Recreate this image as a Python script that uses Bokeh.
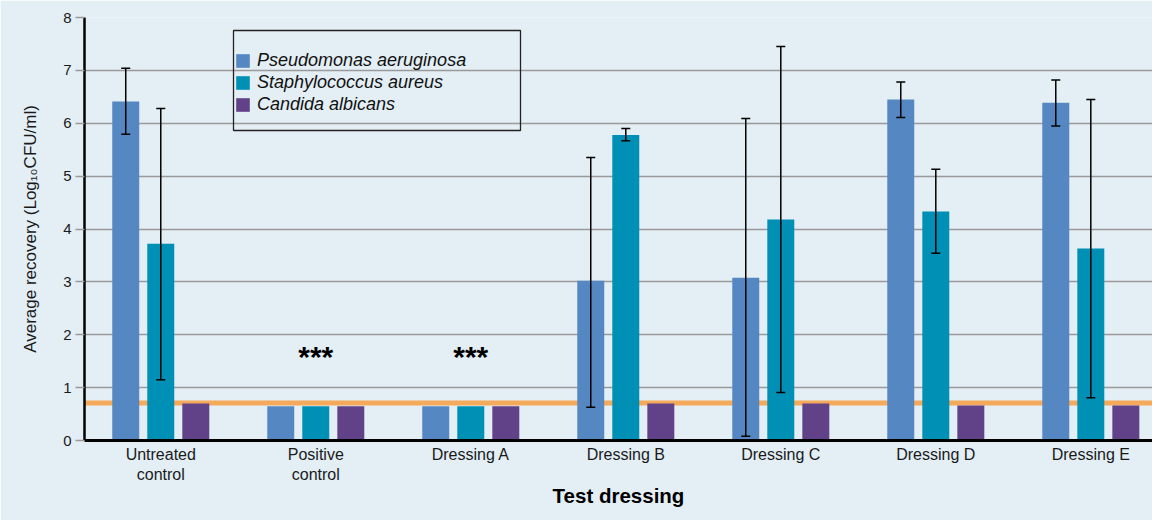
from bokeh.plotting import figure
from bokeh.models import (Range1d, FixedTicker, Whisker, TeeHead, ColumnDataSource,
                          Span, Legend, LegendItem, BoxAnnotation)
from bokeh.core.properties import value
from bokeh.embed import file_html
from bokeh.resources import INLINE

# ---------------- data ----------------
categories = ["Untreated\ncontrol", "Positive\ncontrol", "Dressing A", "Dressing B",
              "Dressing C", "Dressing D", "Dressing E"]
series_names = ["Pseudomonas aeruginosa", "Staphylococcus aureus", "Candida albicans"]

pseudomonas = [6.41, 0.65, 0.65, 3.02, 3.08, 6.45, 6.39]
pseudomonas_lo = [5.79, None, None, 0.63, 0.08, 6.11, 5.95]
pseudomonas_hi = [7.04, None, None, 5.35, 6.09, 6.78, 6.82]

staphylococcus = [3.72, 0.65, 0.65, 5.78, 4.18, 4.33, 3.63]
staphylococcus_lo = [1.15, None, None, 5.67, 0.91, 3.54, 0.81]
staphylococcus_hi = [6.28, None, None, 5.90, 7.45, 5.13, 6.45]

candida = [0.70, 0.65, 0.65, 0.70, 0.70, 0.66, 0.66]

detection_limit = 0.71
star_groups = [1, 2]
star_y = [1.58, 1.58]
star_text = ["***", "***"]

y_ticks = [0, 1, 2, 3, 4, 5, 6, 7, 8]

# ---------------- styling ----------------
colors = ["#5588c2", "#008fb5", "#614288"]
bg = "#e3eef5"
FONT = "Liberation Sans"
offsets = [-0.226, 0.0, 0.226]
bar_w = 0.174

p = figure(width=1152, height=520, x_range=Range1d(-0.492, 6.398), y_range=Range1d(0, 8),
           output_backend="svg", toolbar_location=None,
           min_border_left=84, min_border_right=0, min_border_top=17, min_border_bottom=80)
p.background_fill_color = bg
p.border_fill_color = bg
p.outline_line_color = None

# detection limit line (under bars)
p.add_layout(Span(location=detection_limit, dimension="width", line_color="#f5a95a",
                  line_width=5, level="underlay"))

values = [pseudomonas, staphylococcus, candida]
renderers = []
for k, vals in enumerate(values):
    xs = [i + offsets[k] for i in range(len(categories))]
    src = ColumnDataSource(dict(x=xs, top=vals))
    r = p.vbar(x="x", top="top", bottom=0, width=bar_w, source=src,
               fill_color=colors[k], line_color=None)
    renderers.append(r)

# error bars
for k, (lo, hi) in enumerate([(pseudomonas_lo, pseudomonas_hi),
                              (staphylococcus_lo, staphylococcus_hi)]):
    xs, los, his = [], [], []
    for i in range(len(categories)):
        if lo[i] is not None:
            xs.append(i + offsets[k]); los.append(lo[i]); his.append(hi[i])
    esrc = ColumnDataSource(dict(x=xs, lo=los, hi=his))
    w = Whisker(source=esrc, base="x", lower="lo", upper="hi", level="annotation",
                line_color="black", line_width=1.5,
                upper_head=TeeHead(size=9, line_color="black", line_width=1.5),
                lower_head=TeeHead(size=9, line_color="black", line_width=1.5))
    p.add_layout(w)

# asterisks
p.text(x=star_groups, y=star_y, text=star_text, text_align="center",
       text_baseline="alphabetic", text_font=value(FONT), text_font_style="bold",
       text_font_size="30px", text_color="black")

# axes
p.xgrid.visible = False
p.ygrid.grid_line_color = "#9a9a9a"
p.ygrid.grid_line_width = 1.5

p.yaxis.ticker = FixedTicker(ticks=y_ticks)
p.yaxis.major_tick_out = 9
p.yaxis.major_tick_in = 0
p.yaxis.major_tick_line_color = "#9a9a9a"
p.yaxis.major_tick_line_width = 1.5
p.yaxis.minor_tick_line_color = None
p.yaxis.axis_line_color = "black"
p.yaxis.axis_line_width = 2.5
p.yaxis.major_label_text_font = FONT
p.yaxis.major_label_text_font_size = "15px"
p.yaxis.major_label_text_color = "#1a1a1a"
p.yaxis.major_label_standoff = 4
p.yaxis.axis_label = "Average recovery (Log\u2081\u2080CFU/ml)"
p.yaxis.axis_label_text_font = FONT
p.yaxis.axis_label_text_font_size = "17px"
p.yaxis.axis_label_text_font_style = "normal"
p.yaxis.axis_label_text_color = "#1a1a1a"
p.yaxis.axis_label_standoff = 20

p.xaxis.ticker = FixedTicker(ticks=list(range(len(categories))))
p.xaxis.major_label_overrides = {i: c for i, c in enumerate(categories)}
p.xaxis.major_tick_out = 0
p.xaxis.major_tick_in = 0
p.xaxis.minor_tick_line_color = None
p.xaxis.axis_line_color = "black"
p.xaxis.axis_line_width = 3
p.xaxis.major_label_text_font = FONT
p.xaxis.major_label_text_font_size = "16px"
p.xaxis.major_label_text_color = "#1a1a1a"
p.xaxis.major_label_standoff = 5
p.xaxis.axis_label = "Test dressing"
p.xaxis.axis_label_text_font = FONT
p.xaxis.axis_label_text_font_size = "20.5px"
p.xaxis.axis_label_text_font_style = "bold"
p.xaxis.axis_label_text_color = "black"
p.xaxis.axis_label_standoff = -2

# legend
legend = Legend(items=[LegendItem(label=series_names[k], renderers=[renderers[k]]) for k in range(3)],
                location=(150, 325), padding=4, spacing=1, margin=0,
                glyph_width=17, glyph_height=17, label_height=17, label_standoff=6,
                border_line_color=None, background_fill_alpha=0,
                label_text_font=FONT, label_text_font_style="italic",
                label_text_font_size="18px", label_text_color="#111111")
p.add_layout(legend, "center")
p.add_layout(BoxAnnotation(left=149, right=436, top=410, bottom=310,
                           left_units="screen", right_units="screen",
                           top_units="screen", bottom_units="screen",
                           fill_color=None, fill_alpha=0,
                           line_color="#222222", line_alpha=1.0, line_width=1.3))

open("out.html", "w").write(file_html(p, INLINE))
